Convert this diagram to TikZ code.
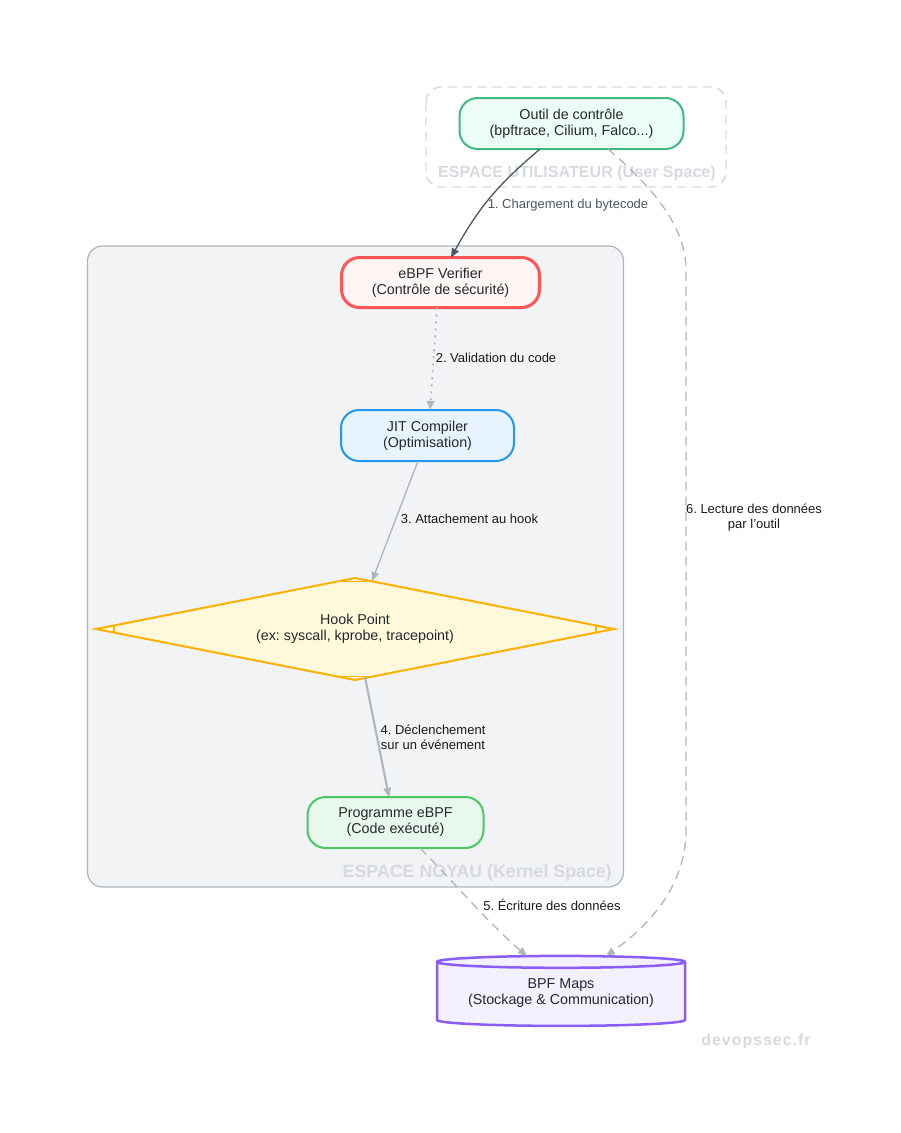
\documentclass[tikz,border=0pt]{standalone}
\usepackage{fontspec}
\setmainfont{Liberation Sans}
\usetikzlibrary{arrows.meta,shapes.geometric,calc}
\definecolor{inkc}{HTML}{24292F}
\definecolor{edgec}{HTML}{ADB5BD}
\definecolor{darkc}{HTML}{4B5563}
\definecolor{titlec}{HTML}{D5D9E0}
\definecolor{kernelc}{HTML}{F1F3F5}
\tikzset{
  box/.style={rectangle,rounded corners=18pt,align=center,inner sep=0pt,outer sep=0pt,text=inkc,
    font=\fontsize{14.3}{16}\selectfont\frenchspacing,minimum height=51pt},
  lab/.style={align=center,inner sep=0pt,font=\fontsize{13}{15}\selectfont\frenchspacing,text=black!90},
  ctitle/.style={inner sep=0pt,font=\fontsize{16.1}{19}\selectfont\bfseries,text=titlec},
  flow/.style={-{Triangle[length=9pt,width=7.5pt]},color=edgec,line width=1.3pt},
}
\begin{document}
\begin{tikzpicture}[x=1pt,y=-1pt]
\useasboundingbox (0,0) rectangle (900,1133);
% clusters
\draw [edgec,fill=kernelc,line width=1.2pt,rounded corners=15pt] (87.5,246) rectangle (623.5,887);
\draw [titlec,line width=1.4pt,dash pattern=on 9pt off 6pt,rounded corners=15pt] (426,87) rectangle (726,187);
\node [ctitle,anchor=east] (usertitle) at (716,173) {ESPACE UTILISATEUR (User Space)};
\node [ctitle,anchor=east,font=\fontsize{17.8}{20}\selectfont\bfseries] (kerneltitle) at (612,872.5) {ESPACE NOYAU (Kernel Space)};
% steps
\node [box,draw={rgb,255:red,66;green,184;blue,131},fill={rgb,255:red,236;green,253;blue,245},line width=2pt,minimum width=224pt] (outil) at (571.5,123.5) {Outil de contrôle\\(bpftrace, Cilium, Falco...)};
\node [box,draw={rgb,255:red,255;green,85;blue,85},fill={rgb,255:red,255;green,245;blue,245},line width=3pt,minimum width=198pt,minimum height=50pt] (verifier) at (440.5,282.5) {eBPF Verifier\\(Contrôle de sécurité)};
\node [box,draw={rgb,255:red,33;green,150;blue,243},fill={rgb,255:red,232;green,244;blue,253},line width=2pt,minimum width=173pt] (jit) at (427.5,435.5) {JIT Compiler\\(Optimisation)};
\node [diamond,draw={rgb,255:red,255;green,176;blue,0},fill={rgb,255:red,255;green,249;blue,219},line width=2pt,align=center,inner sep=0pt,outer sep=0pt,text=inkc,font=\fontsize{14.3}{16}\selectfont\frenchspacing,minimum width=518pt,minimum height=102pt,shape aspect=5.08] (hook) at (355,629) {Hook Point\\(ex: syscall, kprobe, tracepoint)};
\node [box,draw={rgb,255:red,76;green,199;blue,100},fill={rgb,255:red,232;green,248;blue,236},line width=2pt,minimum width=176pt] (prog) at (395.5,822.5) {Programme eBPF\\(Code exécuté)};
\node [cylinder,shape border rotate=90,aspect=0.064,draw={rgb,255:red,139;green,92;blue,246},fill={rgb,255:red,243;green,240;blue,255},cylinder uses custom fill,cylinder body fill={rgb,255:red,243;green,240;blue,255},cylinder end fill={rgb,255:red,243;green,240;blue,255},line width=2.5pt,align=center,inner sep=0pt,outer sep=0pt,text=inkc,font=\fontsize{14.3}{16}\selectfont\frenchspacing,minimum width=248pt,minimum height=70pt] (maps) at (561,994.5) {\raisebox{5.5pt}{BPF Maps}\\\raisebox{5.5pt}{(Stockage \& Communication)}};
% ticks of the diamond
\draw [color={rgb,255:red,255;green,176;blue,0},line width=1.6pt]
  ([xshift=18pt,yshift=-3.5pt]hook.west) -- ([xshift=18pt,yshift=3.5pt]hook.west)
  ([xshift=-18pt,yshift=-3.5pt]hook.east) -- ([xshift=-18pt,yshift=3.5pt]hook.east)
  ([xshift=-15pt,yshift=-3.5pt]hook.north) -- ([xshift=17pt,yshift=-3.5pt]hook.north)
  ([xshift=-15pt,yshift=3.5pt]hook.south) -- ([xshift=17pt,yshift=3.5pt]hook.south);
% connectors
\draw [flow,color=darkc] ([xshift=-31.5pt]outil.south) .. controls (500,183) and (480,205) .. ([xshift=10.5pt]verifier.north);
\draw [flow,dash pattern=on 2pt off 5pt,line width=1.6pt] ([xshift=-3.5pt]verifier.south) -- ([xshift=2.5pt]jit.north);
\draw [flow] ([xshift=-9.5pt]jit.south) -- ([xshift=17pt,yshift=-3pt]hook.north);
\draw [flow,line width=2pt] ([xshift=10pt,yshift=3pt]hook.south) -- ([xshift=-6.5pt]prog.north);
\draw [flow,dash pattern=on 9pt off 6pt] ([xshift=24.5pt]prog.south) .. controls (450,878) and (490,925) .. ([xshift=-34pt]maps.north);
\draw [flow,dash pattern=on 9pt off 6pt] ([xshift=36.5pt]outil.south) .. controls (650,185) and (686,225) .. (686,270) -- (686,830) .. controls (686,885) and (650,925) .. ([xshift=45pt]maps.north);
% labels
\node [lab,text=darkc] (l1) at (568,205) {1. Chargement du bytecode};
\node [lab] (l2) at (496,358) {2. Validation du code};
\node [lab] (l3) at (469.5,519) {3. Attachement au hook};
\node [lab] (l4) at (433,737) {4. Déclenchement\\sur un événement};
\node [lab] (l5) at (552,905) {5. Écriture des données};
\node [lab] (l6) at (754,518) {6. Lecture des données\\par l'outil};
\node [ctitle,font=\fontsize{16}{19}\selectfont\bfseries\addfontfeature{LetterSpace=6}] (mark) at (756,1041) {devopssec.fr};
\end{tikzpicture}
\end{document}
